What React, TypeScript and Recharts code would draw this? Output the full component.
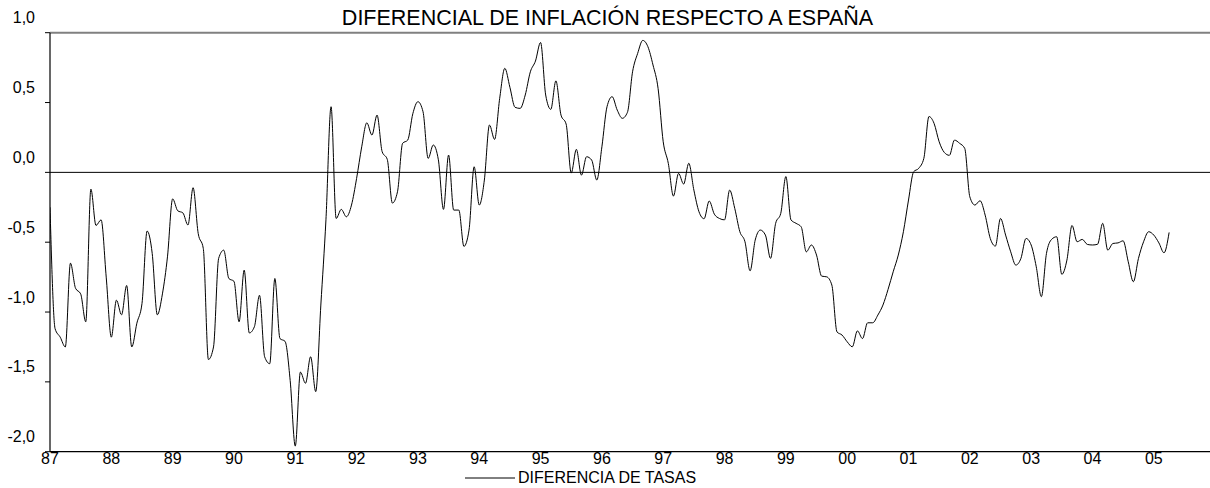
import React from 'react';
import { Line, LineChart, ReferenceLine, XAxis, YAxis } from 'recharts';

// monthly series, Jan 1987 .. Apr 2005
const diferencia: number[] = [
  -0.25, -1.12, -1.18, -1.25, -0.65, -0.83, -0.87, -1.07, -0.12, -0.38, -0.34, -0.75,
  -1.18, -0.915, -1.02, -0.81, -1.25, -1.08, -0.94, -0.42, -0.58, -1.02, -0.87, -0.6,
  -0.19, -0.275, -0.29, -0.377, -0.11, -0.437, -0.545, -1.34, -1.25, -0.616, -0.557, -0.76,
  -0.78, -1.07, -0.7, -1.15, -1.105, -0.88, -1.32, -1.37, -0.76, -1.19, -1.21, -1.49,
  -1.96, -1.43, -1.51, -1.32, -1.57, -0.95, -0.34, 0.47, -0.33, -0.265, -0.318, -0.234,
  -0.043, 0.183, 0.355, 0.267, 0.41, 0.148, 0.093, -0.22, -0.139, 0.208, 0.231, 0.42,
  0.506, 0.434, 0.1, 0.196, 0.09, -0.265, 0.124, -0.27, -0.27, -0.53, -0.413, 0.04,
  -0.234, -0.055, 0.339, 0.236, 0.53, 0.745, 0.609, 0.466, 0.458, 0.554, 0.72, 0.797,
  0.93, 0.554, 0.451, 0.655, 0.41, 0.346, -0.005, 0.165, -0.02, 0.112, 0.088, -0.055,
  0.183, 0.47, 0.542, 0.446, 0.387, 0.43, 0.72, 0.852, 0.945, 0.9, 0.769, 0.6,
  0.219, 0.064, -0.17, -0.007, -0.084, 0.065, -0.127, -0.282, -0.332, -0.205, -0.299, -0.33,
  -0.34, -0.127, -0.258, -0.425, -0.497, -0.705, -0.485, -0.413, -0.449, -0.616, -0.365, -0.294,
  -0.03, -0.34, -0.365, -0.39, -0.569, -0.52, -0.592, -0.743, -0.748, -0.807, -1.142, -1.165,
  -1.213, -1.249, -1.135, -1.19, -1.077, -1.077, -1.022, -0.95, -0.838, -0.712, -0.592, -0.425,
  -0.198, 0.004, 0.029, 0.1, 0.4, 0.351, 0.219, 0.143, 0.122, 0.231, 0.208, 0.172,
  -0.175, -0.234, -0.203, -0.306, -0.473, -0.528, -0.33, -0.449, -0.569, -0.664, -0.616, -0.473,
  -0.52, -0.676, -0.89, -0.58, -0.48, -0.461, -0.73, -0.628, -0.38, -0.497, -0.48, -0.516,
  -0.52, -0.515, -0.365, -0.557, -0.509, -0.505, -0.49, -0.64, -0.783, -0.616, -0.497, -0.425,
  -0.449, -0.505, -0.576, -0.43,
];

const yearLabels = ['87', '88', '89', '90', '91', '92', '93', '94', '95', '96', '97', '98', '99', '00', '01', '02', '03', '04', '05'];
const yTicks = [-2, -1.5, -1, -0.5, 0, 0.5, 1];

const data = diferencia.map((v, i) => ({ t: i, v }));
const xTicks = yearLabels.map((_, i) => i * 12);

const FONT = '"Liberation Sans", Arial, sans-serif';
const W = 1210;
const H = 488;
const TOP = 32.7;
const BOTTOM = 451.7;
const LEFT = 50;

const YTick = (props: any) => {
  const { x, y, payload } = props;
  return (
    <text x={x - 8} y={y - 9.5} textAnchor="end" fontSize={16} fontFamily={FONT} fill="#000">
      {payload.value.toFixed(1).replace('.', ',')}
    </text>
  );
};

const XTick = (props: any) => {
  const { x, payload } = props;
  return (
    <text x={x} y={BOTTOM + 12.6} textAnchor="middle" fontSize={16} fontFamily={FONT} fill="#000">
      {yearLabels[payload.value / 12]}
    </text>
  );
};

export default function App() {
  return (
    <div style={{ position: 'absolute', left: 0, top: 0, width: W, height: H, background: '#fff' }}>
      <LineChart
        width={W}
        height={H}
        data={data}
        margin={{ top: TOP, right: 0, left: 0, bottom: H - BOTTOM - 30 }}
      >
        <XAxis
          type="number"
          dataKey="t"
          domain={[0, 227]}
          ticks={xTicks}
          tick={<XTick />}
          tickLine={false}
          tickSize={0}
          height={30}
          axisLine={{ stroke: '#000', strokeWidth: 1.2 }}
          allowDataOverflow
        />
        <YAxis
          type="number"
          domain={[-2, 1]}
          ticks={yTicks}
          tick={<YTick />}
          width={LEFT}
          tickSize={5}
          tickLine={{ stroke: '#000' }}
          axisLine={{ stroke: '#000', strokeWidth: 1.2 }}
        />
        <ReferenceLine y={1} stroke="#808080" strokeWidth={2} />
        <ReferenceLine y={0} stroke="#000" strokeWidth={1} />
        <Line
          type="monotone"
          dataKey="v"
          stroke="#000"
          strokeWidth={1}
          dot={false}
          isAnimationActive={false}
        />
      </LineChart>
      <svg
        width={W}
        height={H}
        style={{ position: 'absolute', left: 0, top: 0, pointerEvents: 'none' }}
      >
        <text x={607.5} y={25} textAnchor="middle" fontSize={21.5} fontFamily={FONT} fill="#000">
          DIFERENCIAL DE INFLACIÓN RESPECTO A ESPAÑA
        </text>
        <line x1={465} x2={515} y1={478} y2={478} stroke="#000" strokeWidth={1} />
        <text x={518} y={483} fontSize={16} fontFamily={FONT} fill="#000">
          DIFERENCIA DE TASAS
        </text>
      </svg>
    </div>
  );
}
